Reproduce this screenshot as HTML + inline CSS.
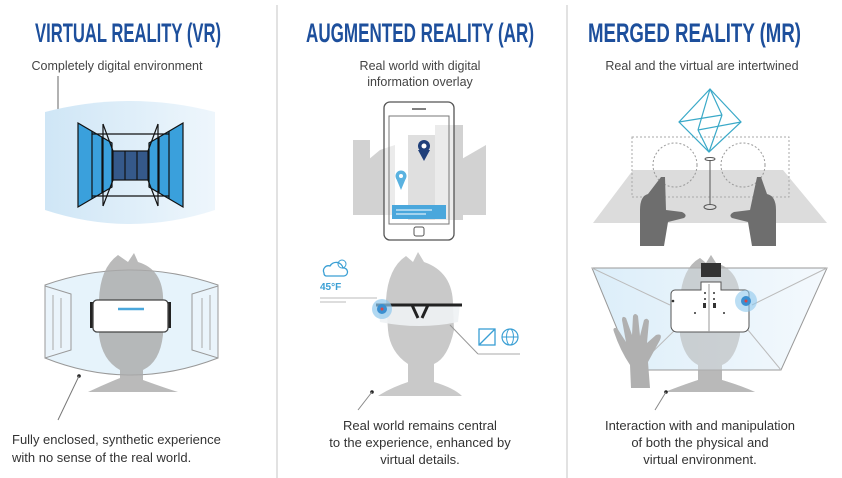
<!DOCTYPE html>
<html><head><meta charset="utf-8"><style>
html,body{margin:0;padding:0;background:#fff;}
svg{display:block;}
.t{font-family:"Liberation Sans Narrow","Liberation Sans",sans-serif;font-weight:bold;fill:#1d4f9c;font-size:27px;}
.s{font-family:"Liberation Sans",sans-serif;font-size:12.5px;fill:#444;text-anchor:middle;}
.c{font-family:"Liberation Sans",sans-serif;font-size:13px;fill:#333;}
</style></head><body>
<svg width="842" height="478" viewBox="0 0 842 478" xmlns="http://www.w3.org/2000/svg">
<defs>
<linearGradient id="lb" x1="0" x2="1"><stop offset="0" stop-color="#cfe6f6"/><stop offset="1" stop-color="#eef6fc"/></linearGradient>
<linearGradient id="lb2" x1="0" x2="1"><stop offset="0" stop-color="#d6ebf8" stop-opacity=".85"/><stop offset="1" stop-color="#f2f8fd" stop-opacity=".85"/></linearGradient>
</defs>
<line x1="277" y1="5" x2="277" y2="478" stroke="#e2e2e2" stroke-width="2"/>
<line x1="567" y1="5" x2="567" y2="478" stroke="#e2e2e2" stroke-width="2"/>

<text class="t" x="35" y="42" textLength="186" lengthAdjust="spacingAndGlyphs">VIRTUAL REALITY (VR)</text>
<text class="t" x="306" y="42" textLength="228" lengthAdjust="spacingAndGlyphs">AUGMENTED REALITY (AR)</text>
<text class="t" x="588" y="42" textLength="213" lengthAdjust="spacingAndGlyphs">MERGED REALITY (MR)</text>
<text class="s" x="117" y="70">Completely digital environment</text>
<text class="s" x="420" y="70">Real world with digital</text>
<text class="s" x="420" y="86">information overlay</text>
<text class="s" x="702" y="70">Real and the virtual are intertwined</text>

<!-- VR top -->
<line x1="58" y1="76" x2="58" y2="111" stroke="#666"/>
<circle cx="58" cy="112" r="1.8" fill="#222"/>
<path d="M45 112 Q130 90 215 112 L215 210 Q130 238 45 210 Z" fill="url(#lb)"/>
<g stroke="#111" stroke-width="1.2">
<polygon points="78,123 112,143 112,187 78,207" fill="#3aa0dc"/>
<line x1="92" y1="131" x2="92" y2="199"/><line x1="102" y1="137" x2="102" y2="193"/>
<polygon points="183,123 149,143 149,187 183,207" fill="#3aa0dc"/>
<line x1="169" y1="131" x2="169" y2="199"/><line x1="159" y1="137" x2="159" y2="193"/>
<rect x="113" y="151" width="35" height="29" fill="#35598a"/>
<line x1="125" y1="151" x2="125" y2="180"/><line x1="137" y1="151" x2="137" y2="180"/>
<polyline points="103,124 113,151" fill="none"/><polyline points="158,124 148,151" fill="none"/>
<polyline points="103,206 113,180" fill="none"/><polyline points="158,206 148,180" fill="none"/>
<line x1="103" y1="124" x2="103" y2="206"/><line x1="158" y1="124" x2="158" y2="206"/>
<line x1="92" y1="134" x2="169" y2="134"/><line x1="92" y1="196" x2="169" y2="196"/>
</g>

<!-- VR bottom -->
<path d="M45 285 Q130 255 218 285 L218 358 Q130 392 45 358 Z" fill="#d5ebf8" fill-opacity=".6" stroke="#999"/>
<path d="M118 255 L128 262 L134 253 L138 262 Q165 270 163 305 L163 335 Q160 362 143 370 L143 380 Q165 388 178 392 L88 392 Q105 384 120 378 L120 370 Q102 360 99 335 L99 300 Q100 268 118 255 Z" fill="#a9a9a9" fill-opacity=".8"/>
<polygon points="45,286 71,294 71,350 45,358" fill="#eaf4fb" stroke="#999"/>
<polygon points="218,286 192,294 192,350 218,358" fill="#eaf4fb" stroke="#999"/>
<g stroke="#aaa"><line x1="53" y1="295" x2="53" y2="350"/><line x1="61" y1="298" x2="61" y2="348"/><line x1="210" y1="295" x2="210" y2="350"/><line x1="202" y1="298" x2="202" y2="348"/></g>
<rect x="90" y="302" width="4" height="26" fill="#222"/><rect x="167" y="302" width="4" height="26" fill="#222"/>
<rect x="93" y="300" width="75" height="32" rx="4" fill="#fff" stroke="#444" stroke-width="1.3"/>
<line x1="118" y1="309" x2="144" y2="309" stroke="#4aa7dc" stroke-width="2.5"/>
<circle cx="79" cy="376" r="1.8" fill="#222"/>
<line x1="79" y1="376" x2="58" y2="420" stroke="#777"/>
<text class="c" x="12" y="444">Fully enclosed, synthetic experience</text>
<text class="c" x="12" y="462">with no sense of the real world.</text>

<!-- AR top -->
<g fill="#d2d2d2">
<polygon points="353,140 370,140 370,215 353,215"/>
<polygon points="368,160 380,150 395,145 395,215 368,215"/>
<rect x="408" y="135" width="30" height="85" fill="#b8b8b8"/>
<rect x="435" y="125" width="28" height="95"/>
<polygon points="460,160 486,145 486,215 460,215"/>
</g>
<path d="M390 102 h58 a6 6 0 0 1 6 6 v126 a6 6 0 0 1 -6 6 h-58 a6 6 0 0 1 -6 -6 v-126 a6 6 0 0 1 6 -6 z" fill="#fff" fill-opacity=".55" stroke="#555" stroke-width="1.3"/>
<rect x="389" y="116" width="60" height="108" fill="none" stroke="#777"/>
<line x1="412" y1="109" x2="426" y2="109" stroke="#555" stroke-width="1.5"/>
<rect x="414" y="227" width="10" height="9" rx="2" fill="none" stroke="#555"/>
<rect x="392" y="205" width="54" height="14" fill="#4aa7dc"/>
<line x1="396" y1="210" x2="432" y2="210" stroke="#fff"/><line x1="396" y1="214" x2="426" y2="214" stroke="#fff"/>
<path d="M418 150 L424 161 L430 150 Z" fill="#1f3f7a"/>
<circle cx="424" cy="146" r="6" fill="#1f3f7a"/><circle cx="424" cy="146" r="2.5" fill="#fff"/>
<path d="M396 178 L401 190 L406 178 Z" fill="#5ab2e0"/><circle cx="401" cy="176" r="5.5" fill="#5ab2e0"/><circle cx="401" cy="176" r="2" fill="#fff"/>

<!-- AR bottom -->
<path d="M406 256 L413 262 L418 252 L424 262 Q453 272 453 305 L454 330 Q448 358 434 364 L434 382 Q454 388 462 396 L378 396 Q390 388 408 382 L408 364 Q390 352 388 330 L386 300 Q388 268 406 256 Z" fill="#c9c9c9"/>
<path d="M378 304 L460 304 L458 322 Q420 330 380 322 Z" fill="#eef2f4" fill-opacity=".9"/>
<path d="M376 305 L462 305" stroke="#222" stroke-width="3"/>
<path d="M412 305 L418 318 M428 305 L422 318" stroke="#222" stroke-width="3"/>
<circle cx="382" cy="309" r="10" fill="#8ec8ec" fill-opacity=".7"/><circle cx="382" cy="309" r="5" fill="#3a8fd0"/><circle cx="382" cy="309" r="1.5" fill="#d44"/>
<line x1="320" y1="298" x2="377" y2="298" stroke="#bbb"/><line x1="320" y1="302" x2="346" y2="302" stroke="#bbb"/>
<line x1="450" y1="325" x2="478" y2="354" stroke="#999"/><line x1="478" y1="354" x2="520" y2="354" stroke="#aaa"/>
<rect x="479" y="329" width="16" height="16" fill="none" stroke="#3a9fd4" stroke-width="1.3"/><line x1="479" y1="345" x2="495" y2="329" stroke="#3a9fd4" stroke-width="1.3"/>
<circle cx="510" cy="337" r="8" fill="none" stroke="#3a9fd4" stroke-width="1.2"/><ellipse cx="510" cy="337" rx="3.5" ry="8" fill="none" stroke="#3a9fd4"/><line x1="502" y1="337" x2="518" y2="337" stroke="#3a9fd4"/>
<path d="M324 273 a5 5 0 0 1 6 -7 a7 7 0 0 1 13 2 a4 4 0 0 1 1 8 h-18 a3 3 0 0 1 -2 -3 z" fill="none" stroke="#3a9fd4" stroke-width="1.3"/>
<circle cx="342" cy="264" r="4" fill="none" stroke="#3a9fd4"/>
<text x="320" y="290" font-family="Liberation Sans,sans-serif" font-weight="bold" font-size="10" fill="#3a9fd4">45°F</text>
<circle cx="372" cy="392" r="1.8" fill="#222"/><line x1="372" y1="392" x2="358" y2="410" stroke="#888"/>
<text class="s" x="420" y="430" style="font-size:13px;fill:#333">Real world remains central</text>
<text class="s" x="420" y="447" style="font-size:13px;fill:#333">to the experience, enhanced by</text>
<text class="s" x="420" y="464" style="font-size:13px;fill:#333">virtual details.</text>

<!-- MR top -->
<polygon points="633,170 783,170 827,223 593,223" fill="#dcdcdc"/>
<rect x="632" y="137" width="157" height="60" fill="none" stroke="#aaa" stroke-dasharray="2,2"/>
<circle cx="675" cy="165" r="22" fill="none" stroke="#999" stroke-dasharray="2,2"/>
<circle cx="743" cy="165" r="22" fill="none" stroke="#999" stroke-dasharray="2,2"/>
<g stroke="#3aa9c8" stroke-width="1.2" fill="none">
<polygon points="710,89 741,122 709,152 679,122"/>
<line x1="710" y1="89" x2="698" y2="130"/><line x1="710" y1="89" x2="722" y2="115"/>
<line x1="698" y1="130" x2="741" y2="122"/><line x1="679" y1="122" x2="722" y2="115"/>
<line x1="698" y1="130" x2="709" y2="152"/><line x1="722" y1="115" x2="709" y2="152"/>
</g>
<ellipse cx="710" cy="159" rx="5" ry="1.5" fill="none" stroke="#555"/>
<line x1="710" y1="160" x2="710" y2="205" stroke="#555"/>
<ellipse cx="710" cy="207" rx="6" ry="2.5" fill="none" stroke="#555"/>
<path d="M661 177 L665 177 L666 210 L682 212 Q688 215 684 218 L668 222 L664 246 L640 246 L640 210 Q640 196 648 194 Z" fill="#6e6e6e"/>
<path d="M757 177 L761 177 L767 194 Q776 196 776 210 L776 246 L752 246 L748 222 L732 218 Q728 215 734 212 L750 210 Z" fill="#6e6e6e"/>

<!-- MR bottom -->
<path d="M700 258 L706 263 L711 255 L716 263 Q740 270 740 300 L740 335 Q735 360 722 365 L722 380 Q742 386 755 392 L665 392 Q680 386 698 380 L698 365 Q684 358 680 335 L680 300 Q682 268 700 258 Z" fill="#b9b9b9"/>
<polygon points="592,268 827,268 781,370 634,370" fill="url(#lb2)" stroke="#999"/>
<g stroke="#bbb"><line x1="592" y1="268" x2="670" y2="305"/><line x1="827" y1="268" x2="752" y2="305"/><line x1="634" y1="370" x2="675" y2="330"/><line x1="781" y1="370" x2="748" y2="330"/></g>
<path d="M700 258 L706 263 L711 255 L716 263 Q740 270 740 300 L740 335 Q735 360 722 365 L722 380 Q742 386 755 392 L665 392 Q680 386 698 380 L698 365 Q684 358 680 335 L680 300 Q682 268 700 258 Z" fill="#b9b9b9" fill-opacity=".55"/>
<rect x="701" y="263" width="20" height="14" fill="#333"/>
<path d="M675 290 h26 v-8 h20 v8 h24 a4 4 0 0 1 4 4 v32 a6 6 0 0 1 -6 6 h-66 a6 6 0 0 1 -6 -6 v-32 a4 4 0 0 1 4 -4 z" fill="#fff" stroke="#555"/>
<line x1="709" y1="284" x2="709" y2="332" stroke="#999"/>
<g fill="#333"><circle cx="705" cy="293" r="1"/><circle cx="714" cy="293" r="1"/><circle cx="705" cy="299" r="1"/><circle cx="714" cy="299" r="1"/><rect x="703" y="303" width="3" height="5"/><rect x="713" y="303" width="3" height="5"/><circle cx="695" cy="313" r="1"/><circle cx="724" cy="313" r="1"/><circle cx="673" cy="301" r="1.3"/></g>
<circle cx="746" cy="301" r="11" fill="#8ec8ec" fill-opacity=".6"/><circle cx="746" cy="301" r="5" fill="#3a8fd0"/><circle cx="746" cy="301" r="1.5" fill="#d44"/>
<path d="M631 388 L630 365 Q620 350 614 332 Q612 327 617 328 L626 342 L622 320 Q622 315 626 318 L632 335 L633 316 Q635 312 638 316 L640 336 L644 320 Q647 317 649 321 L647 343 L656 335 Q663 333 660 340 L648 362 L650 388 Z" fill="#b0b0b0"/>
<circle cx="666" cy="392" r="1.8" fill="#222"/><line x1="666" y1="392" x2="655" y2="410" stroke="#888"/>
<text class="s" x="700" y="430" style="font-size:13px;fill:#333">Interaction with and manipulation</text>
<text class="s" x="700" y="447" style="font-size:13px;fill:#333">of both the physical and</text>
<text class="s" x="700" y="464" style="font-size:13px;fill:#333">virtual environment.</text>
</svg>
</body></html>
